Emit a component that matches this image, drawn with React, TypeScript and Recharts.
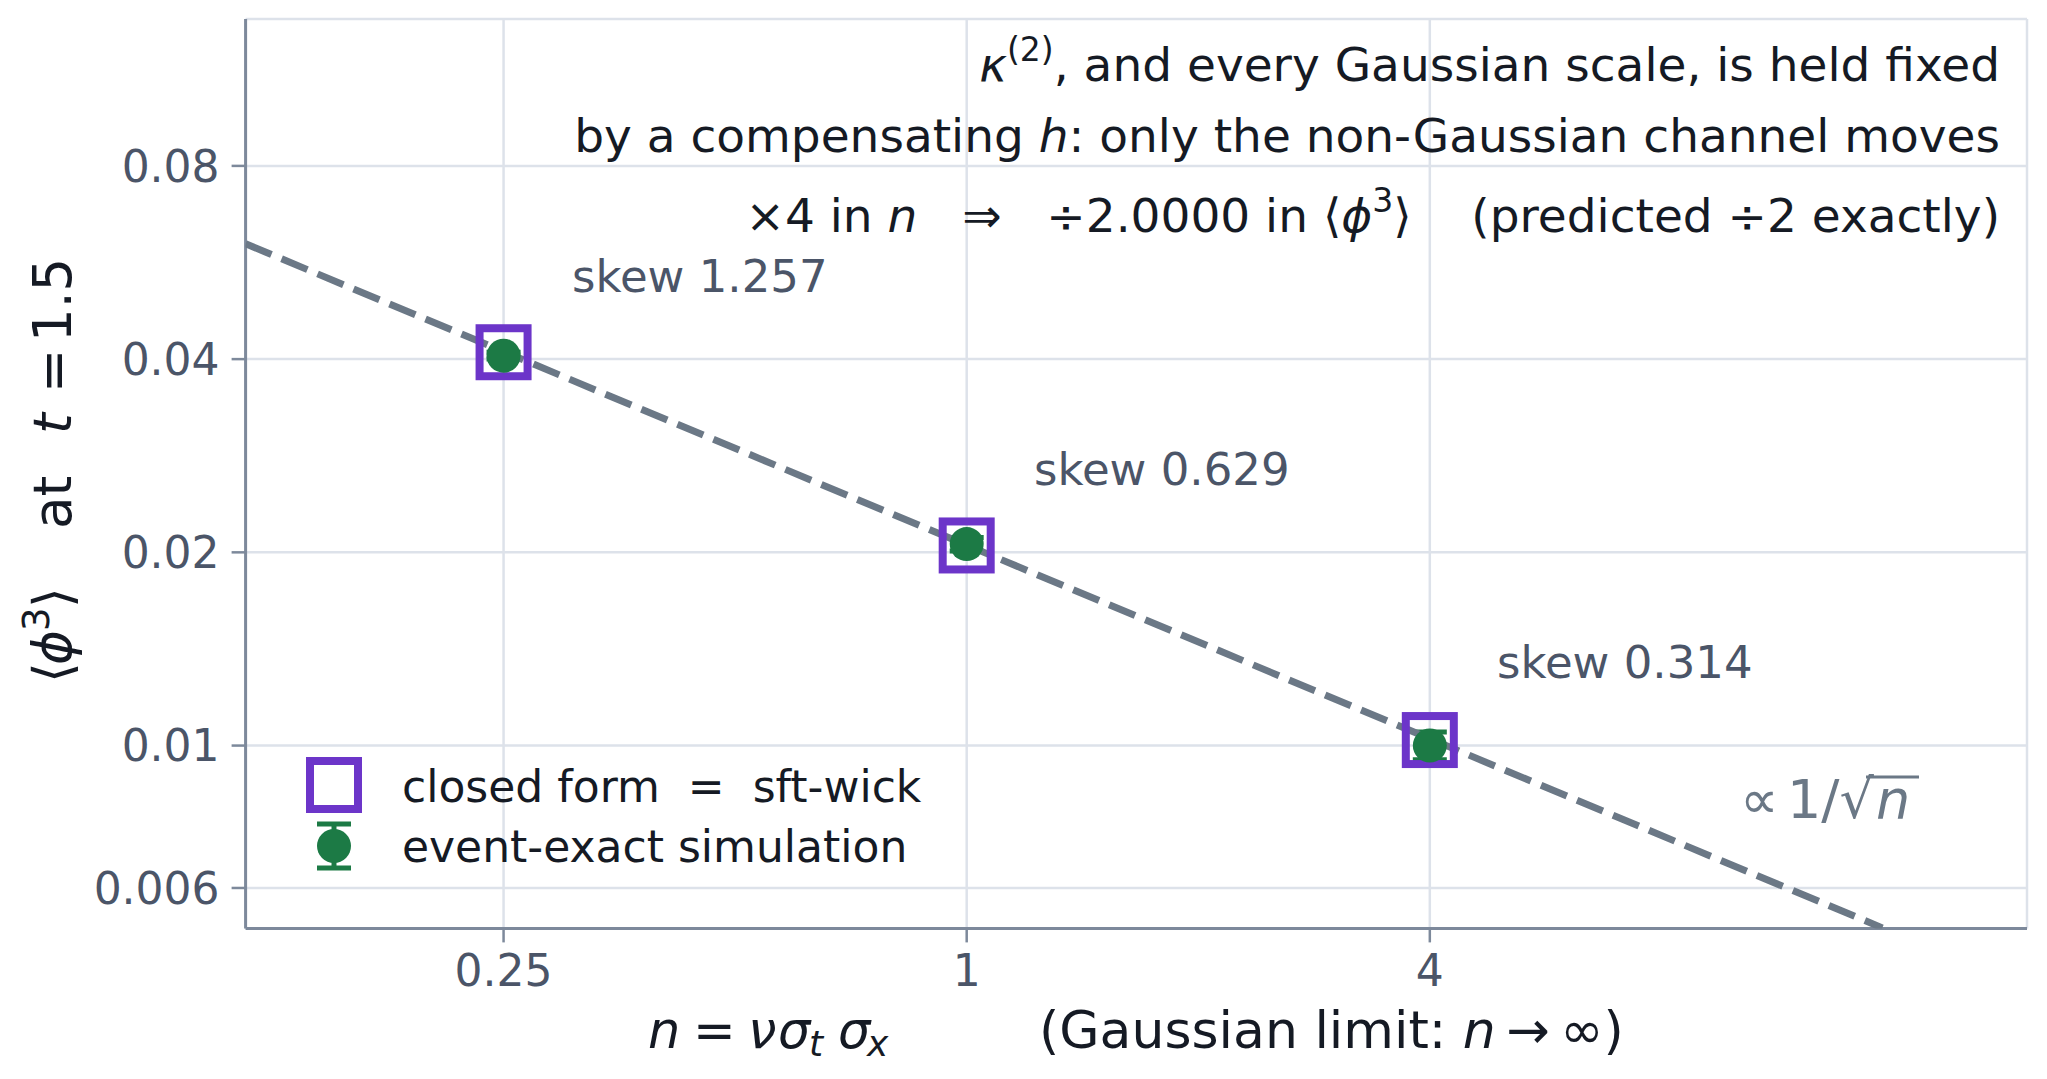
import React from 'react';
import {
    ComposedChart,
    Scatter,
    ErrorBar,
    XAxis,
    YAxis,
    CartesianGrid,
} from 'recharts';

// values
const nValues = [0.25, 1, 4];
const closedForm = [0.041, 0.0205, 0.0102];
const simulation = [0.0405, 0.0206, 0.01];
const simError = [0.0005, 0.0005, 0.0005];
const skewLabels = ['skew 1.257', 'skew 0.629', 'skew 0.314'];

// dashed 1/sqrt(n) guide, end points as seen on the plot
const guideN = [0.1155, 15.5];
const guideValue = [0.0605, 0.0052];

const xTicks = [0.25, 1, 4];
const yTicks = [0.006, 0.01, 0.02, 0.04, 0.08];

const closedData = nValues.map((n, i) => ({ n, v: closedForm[i] }));
const simData = nValues.map((n, i) => ({ n, v: simulation[i], err: simError[i] }));
const guideData = guideN.map((n, i) => ({ n, v: guideValue[i] }));

const W = 2047;
const H = 1079;
const FONT = '"DejaVu Sans", sans-serif';
const PURPLE = '#6c35c9';
const GREEN = '#1c7a45';
const GUIDE = '#6b7886';
const AXIS = '#7d899b';
const GRID = '#dde2ea';
const TICK = '#4b5568';
const INK = '#151a24';
const SP = '\u00a0';

const Square = (props: any) => {
    const { cx, cy } = props;
    return <rect x={cx - 24} y={cy - 24} width={48} height={48} fill="none" stroke={PURPLE} strokeWidth={8} />;
};

const Dot = (props: any) => {
    const { cx, cy } = props;
    return <circle cx={cx} cy={cy} r={17} fill={GREEN} />;
};

const Nothing = () => <g />;

const Overlay = () => (
    <svg width={W} height={H} style={{ position: 'absolute', left: 0, top: 0, pointerEvents: 'none' }}>
        <g fontFamily={FONT} fill={INK}>
            {/* note in the top right */}
            <text x={2000} y={81} fontSize={47} textAnchor="end">
                <tspan fontStyle="italic">κ</tspan>
                <tspan fontSize={33} dy={-20}>(2)</tspan>
                <tspan dy={20}>, and every Gaussian scale, is held fixed</tspan>
            </text>
            <text x={2000} y={152} fontSize={47} textAnchor="end">
                <tspan>by a compensating </tspan>
                <tspan fontStyle="italic">h</tspan>
                <tspan>: only the non-Gaussian channel moves</tspan>
            </text>
            <text x={2000} y={232} fontSize={47} textAnchor="end">
                <tspan>×4 in </tspan>
                <tspan fontStyle="italic">n</tspan>
                <tspan>{`${SP}${SP}${SP}⇒${SP}${SP}${SP}÷2.0000 in ⟨`}</tspan>
                <tspan fontStyle="italic">ϕ</tspan>
                <tspan fontSize={33} dy={-20}>3</tspan>
                <tspan dy={20}>{`⟩${SP}${SP}${SP}${SP}(predicted ÷2 exactly)`}</tspan>
            </text>

            {/* skew labels next to each point */}
            <g fill={TICK} fontSize={45}>
                <text x={572} y={292}>{skewLabels[0]}</text>
                <text x={1034} y={485}>{skewLabels[1]}</text>
                <text x={1497} y={678}>{skewLabels[2]}</text>
            </g>

            {/* guide label */}
            <g fill={GUIDE} fontSize={54}>
                <text y={818}>
                    <tspan x={1740}>∝</tspan>
                    <tspan x={1787}>1/√</tspan>
                    <tspan x={1876} fontStyle="italic">n</tspan>
                </text>
                <line x1={1866} y1={777} x2={1919} y2={777} stroke={GUIDE} strokeWidth={3} />
            </g>

            {/* legend */}
            <rect x={310} y={761} width={48} height={48} fill="none" stroke={PURPLE} strokeWidth={8} />
            <line x1={334} y1={824} x2={334} y2={868} stroke={GREEN} strokeWidth={5} />
            <line x1={317} y1={824} x2={351} y2={824} stroke={GREEN} strokeWidth={5} />
            <line x1={317} y1={868} x2={351} y2={868} stroke={GREEN} strokeWidth={5} />
            <circle cx={334} cy={846} r={17} fill={GREEN} />
            <text x={402} y={802} fontSize={44}>{`closed form${SP}${SP}=${SP}${SP}sft-wick`}</text>
            <text x={402} y={862} fontSize={44}>event-exact simulation</text>

            {/* x axis label */}
            <text y={1048} fontSize={51} fontStyle="italic">
                <tspan x={648}>n</tspan>
                <tspan x={693} fontStyle="normal">=</tspan>
                <tspan x={748}>ν</tspan>
                <tspan x={778}>σ</tspan>
                <tspan x={809} fontSize={36} dy={8}>t</tspan>
                <tspan x={838} dy={-8}>σ</tspan>
                <tspan x={867} fontSize={36} dy={8}>x</tspan>
            </text>
            <text x={1039} y={1048} fontSize={52}>
                <tspan>(Gaussian limit: </tspan>
                <tspan fontStyle="italic">n</tspan>
                <tspan>{'\u2009→\u2009∞)'}</tspan>
            </text>

            {/* y axis label, local x runs up the page after the rotation */}
            <text y={683} fontSize={53} transform="rotate(-90 71 683)">
                <tspan x={71}>⟨</tspan>
                <tspan x={89} fontStyle="italic">ϕ</tspan>
                <tspan x={123} fontSize={37} dy={-22}>3</tspan>
                <tspan x={146} dy={22}>⟩</tspan>
                <tspan x={225}>at</tspan>
                <tspan x={320} fontStyle="italic">t</tspan>
                <tspan x={361}>=</tspan>
                <tspan x={412}>1.5</tspan>
            </text>
        </g>
    </svg>
);

export default function App() {
    return (
        <div style={{ position: 'absolute', left: 0, top: 0, width: W, height: H, background: '#fff' }}>
            <ComposedChart width={W} height={H} margin={{ top: 19, right: 20, bottom: 0, left: 0 }}>
                <CartesianGrid stroke={GRID} strokeWidth={2.5} />
                <XAxis
                    type="number"
                    dataKey="n"
                    scale="log"
                    domain={[0.1155, 23.9]}
                    allowDataOverflow
                    ticks={xTicks}
                    tickFormatter={(v: number) => String(v)}
                    height={150.6}
                    axisLine={{ stroke: AXIS, strokeWidth: 3 }}
                    tickLine={{ stroke: AXIS, strokeWidth: 2.5 }}
                    tickSize={14}
                    tickMargin={12}
                    tick={{ fill: TICK, fontSize: 44, fontFamily: FONT }}
                />
                <YAxis
                    type="number"
                    dataKey="v"
                    scale="log"
                    domain={[0.00519, 0.1355]}
                    allowDataOverflow
                    ticks={yTicks}
                    tickFormatter={(v: number) => String(v)}
                    width={245.6}
                    axisLine={{ stroke: AXIS, strokeWidth: 3 }}
                    tickLine={{ stroke: AXIS, strokeWidth: 2.5 }}
                    tickSize={14}
                    tickMargin={12}
                    tick={{ fill: TICK, fontSize: 44, fontFamily: FONT }}
                />
                <Scatter
                    data={guideData}
                    shape={Nothing}
                    line={{ stroke: GUIDE, strokeWidth: 7, strokeDasharray: '28 11' }}
                    isAnimationActive={false}
                />
                <Scatter data={closedData} shape={Square} isAnimationActive={false} />
                <Scatter data={simData} shape={Dot} isAnimationActive={false}>
                    <ErrorBar dataKey="err" direction="y" width={17} stroke={GREEN} strokeWidth={5} />
                </Scatter>
            </ComposedChart>
            <Overlay />
        </div>
    );
}
